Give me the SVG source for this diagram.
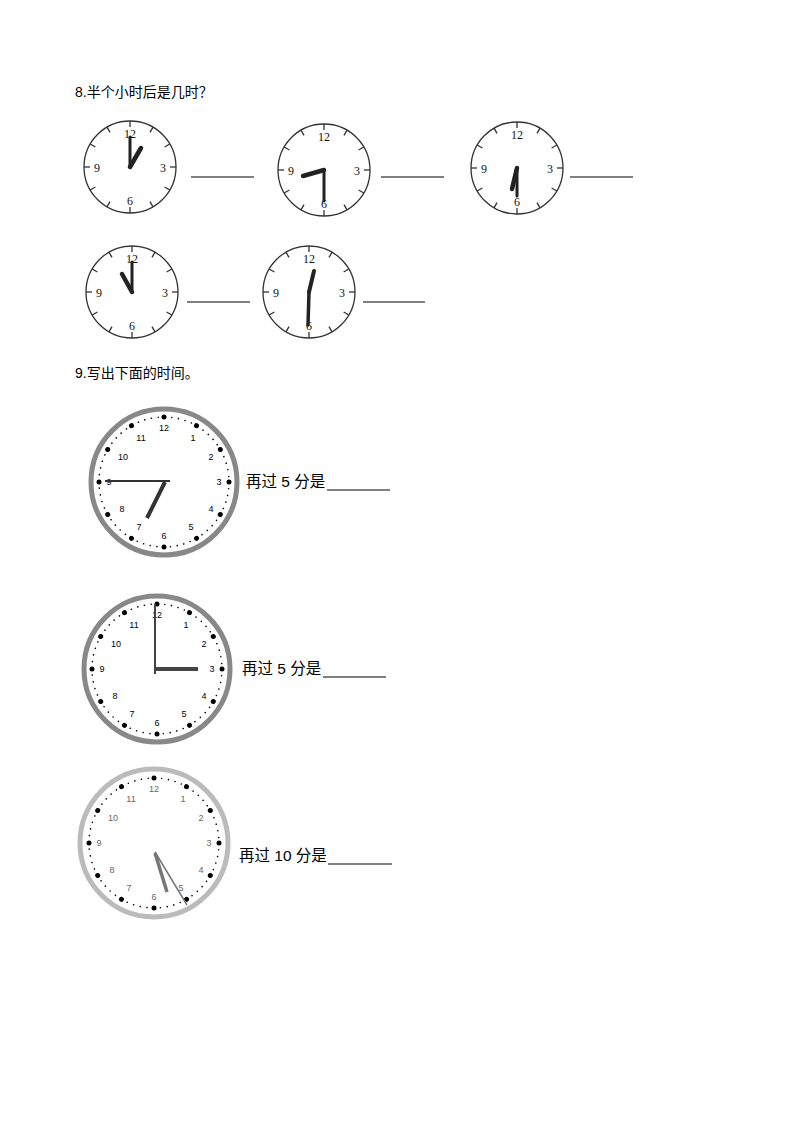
<svg xmlns="http://www.w3.org/2000/svg" xmlns:xlink="http://www.w3.org/1999/xlink" width="794" height="1123" viewBox="0 0 794 1123">
<style>
.t{font-family:"Liberation Sans","Noto Sans CJK SC",sans-serif;font-size:14px;fill:#000}
.t2{font-family:"Liberation Sans","Noto Sans CJK SC",sans-serif;font-size:15.5px;fill:#000}
.n{font-family:"Liberation Serif",serif;font-size:12px;text-anchor:middle;fill:#111}
.d{font-family:"Liberation Sans",sans-serif;font-size:9px;text-anchor:middle}
.face{fill:#fff;stroke:#333;stroke-width:1.3}
.hand{stroke:#222;stroke-linecap:round}
.ul{stroke:#000;stroke-width:1}
</style>
<defs>
<g id="tick"><line x1="0" y1="-46" x2="0" y2="-40" stroke="#333" stroke-width="1.3"/></g>
<g id="top">
<circle class="face" r="46"/>
<use xlink:href="#tick"/><use xlink:href="#tick" transform="rotate(30)"/><use xlink:href="#tick" transform="rotate(60)"/><use xlink:href="#tick" transform="rotate(90)"/><use xlink:href="#tick" transform="rotate(120)"/><use xlink:href="#tick" transform="rotate(150)"/><use xlink:href="#tick" transform="rotate(180)"/><use xlink:href="#tick" transform="rotate(210)"/><use xlink:href="#tick" transform="rotate(240)"/><use xlink:href="#tick" transform="rotate(270)"/><use xlink:href="#tick" transform="rotate(300)"/><use xlink:href="#tick" transform="rotate(330)"/>
<text class="n" x="0" y="-29">12</text><text class="n" x="33" y="5">3</text><text class="n" x="0" y="38">6</text><text class="n" x="-33" y="5">9</text>
</g>
<circle id="hd" cx="0" cy="-65" r="2.5" fill="#000"/>
<g id="dial">
<circle r="65" fill="none" stroke="#000" stroke-width="1.6" stroke-linecap="round" stroke-dasharray="0.01 6.807"/>
<use xlink:href="#hd"/><use xlink:href="#hd" transform="rotate(30)"/><use xlink:href="#hd" transform="rotate(60)"/><use xlink:href="#hd" transform="rotate(90)"/><use xlink:href="#hd" transform="rotate(120)"/><use xlink:href="#hd" transform="rotate(150)"/><use xlink:href="#hd" transform="rotate(180)"/><use xlink:href="#hd" transform="rotate(210)"/><use xlink:href="#hd" transform="rotate(240)"/><use xlink:href="#hd" transform="rotate(270)"/><use xlink:href="#hd" transform="rotate(300)"/><use xlink:href="#hd" transform="rotate(330)"/>
<text class="d" x="0" y="-51">12</text><text class="d" x="29" y="-41">1</text><text class="d" x="47" y="-22">2</text><text class="d" x="55" y="3">3</text><text class="d" x="47" y="30">4</text><text class="d" x="27" y="48">5</text><text class="d" x="0" y="57">6</text><text class="d" x="-25" y="48">7</text><text class="d" x="-42" y="30">8</text><text class="d" x="-55" y="3">9</text><text class="d" x="-41" y="-22">10</text><text class="d" x="-23" y="-41">11</text>
</g>
</defs>
<rect width="794" height="1123" fill="#fff"/>
<text class="t" x="75" y="97">8.半个小时后是几时？</text>
<g id="clock1"><use xlink:href="#top" x="130" y="167"/><line class="hand" x1="130" y1="167" x2="130" y2="137" stroke-width="3"/><line class="hand" x1="130" y1="167" x2="141" y2="148" stroke-width="4.5"/></g>
<g id="clock2"><use xlink:href="#top" x="324" y="170"/><line class="hand" x1="324" y1="170" x2="324" y2="201" stroke-width="3"/><line class="hand" x1="324" y1="170" x2="303" y2="176" stroke-width="4.5"/></g>
<g id="clock3"><use xlink:href="#top" x="517" y="168"/><line class="hand" x1="517" y1="168" x2="517" y2="196" stroke-width="3"/><line class="hand" x1="517" y1="168" x2="512" y2="189" stroke-width="4.5"/></g>
<g id="clock4"><use xlink:href="#top" x="132" y="292"/><line class="hand" x1="132" y1="292" x2="132" y2="262" stroke-width="3"/><line class="hand" x1="132" y1="292" x2="122" y2="274" stroke-width="4.5"/></g>
<g id="clock5"><use xlink:href="#top" x="309" y="292"/><line class="hand" x1="309" y1="292" x2="308" y2="325" stroke-width="3.5"/><line class="hand" x1="309" y1="292" x2="314" y2="271" stroke-width="4"/></g>
<g id="blanks8"><line class="ul" x1="191" y1="177" x2="254" y2="177"/><line class="ul" x1="381" y1="177" x2="444" y2="177"/><line class="ul" x1="570" y1="177" x2="633" y2="177"/><line class="ul" x1="187" y1="302" x2="250" y2="302"/><line class="ul" x1="363" y1="302" x2="425" y2="302"/></g>
<text class="t" x="75" y="378">9.写出下面的时间。</text>
<g id="clockA"><circle cx="164" cy="482" r="73" fill="#fff" stroke="#888" stroke-width="5"/><use xlink:href="#dial" x="164" y="482" fill="#000"/>
<line x1="105" y1="481" x2="170" y2="481" stroke="#333" stroke-width="2"/><line x1="165" y1="482" x2="147" y2="518" stroke="#333" stroke-width="4"/>
<text class="t2" x="246" y="487">再过 5 分是</text><line class="ul" x1="327" y1="490" x2="390" y2="490"/></g>
<g id="clockB"><circle cx="157" cy="669" r="73" fill="#fff" stroke="#888" stroke-width="5"/><use xlink:href="#dial" x="157" y="669" fill="#000"/>
<line x1="155" y1="604" x2="155" y2="674" stroke="#444" stroke-width="2"/><line x1="155" y1="669" x2="198" y2="669" stroke="#444" stroke-width="4"/>
<text class="t2" x="242" y="674">再过 5 分是</text><line class="ul" x1="323" y1="677" x2="386" y2="677"/></g>
<g id="clockC"><circle cx="154" cy="843" r="74" fill="#fff" stroke="#bbb" stroke-width="5"/><use xlink:href="#dial" x="154" y="843" fill="#666"/>
<line x1="155" y1="852" x2="187" y2="905" stroke="#777" stroke-width="1.5"/><line x1="155" y1="853" x2="167" y2="892" stroke="#777" stroke-width="3.5"/>
<text class="t2" x="239" y="861">再过 10 分是</text><line class="ul" x1="328" y1="864" x2="392" y2="864"/></g>
</svg>
